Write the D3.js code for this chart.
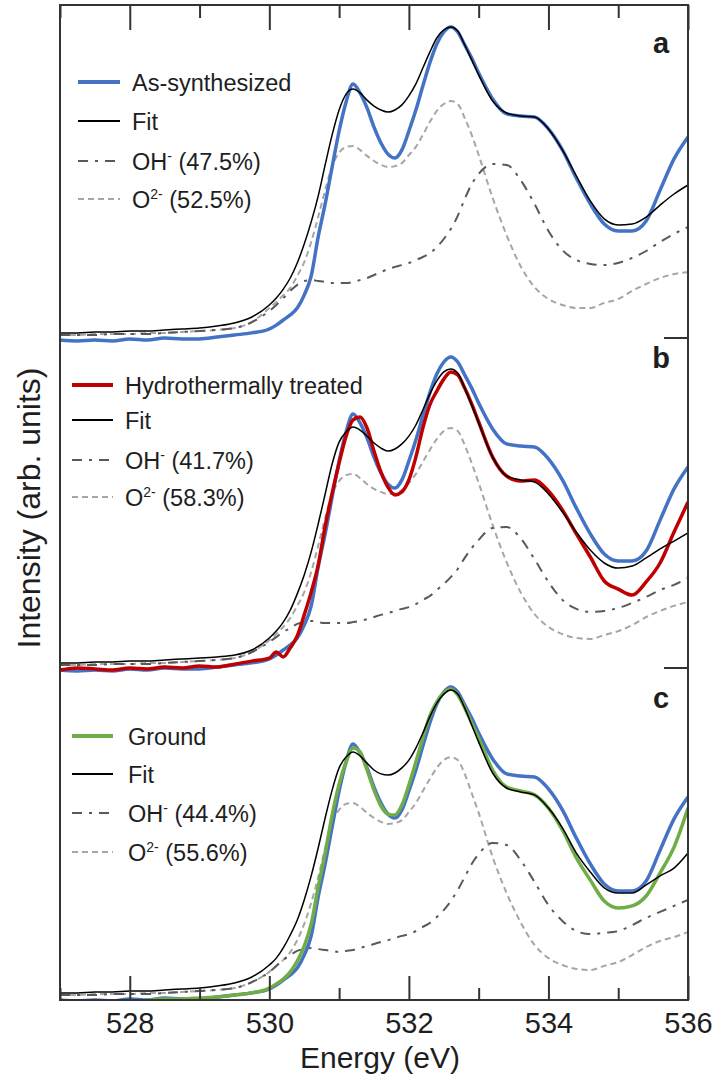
<!DOCTYPE html>
<html>
<head>
<meta charset="utf-8">
<script src="https://cdn.jsdelivr.net/npm/d3@7"></script>
<style>
  body { margin: 0; background: #fff; }
  svg { display: block; font-family: 'Liberation Sans', Arial, sans-serif; }
</style>
</head>
<body>
<svg width="721" height="1080"></svg>
<script>
// energy grid (eV), shared by every series
const energy = [
  527.00, 527.25, 527.50, 527.75, 528.00, 528.25, 528.50, 528.75, 529.00, 529.25, 529.50, 529.75,
  530.0, 530.1, 530.2, 530.3, 530.4, 530.5, 530.6, 530.7, 530.8, 530.9,
  531.0, 531.1, 531.2, 531.3, 531.4, 531.5, 531.6, 531.7, 531.8, 531.9,
  532.0, 532.1, 532.2, 532.3, 532.4, 532.5, 532.6, 532.7, 532.8, 532.9,
  533.0, 533.2, 533.4, 533.6, 533.8, 534.0, 534.2, 534.4, 534.6, 534.8,
  535.0, 535.2, 535.4, 535.6, 535.8, 536.0
];

// measured spectra (normalised intensity)
const asSynth = [
  -0.007, -0.010, -0.007, -0.010, -0.003, -0.007, 0.000, -0.003, -0.003, 0.003, 0.010, 0.017,
  0.030, 0.043, 0.060, 0.077, 0.100, 0.143, 0.207, 0.337, 0.447, 0.570,
  0.690, 0.787, 0.847, 0.817, 0.767, 0.703, 0.650, 0.613, 0.600, 0.627,
  0.690, 0.760, 0.840, 0.917, 0.980, 1.020, 1.037, 1.020, 0.977, 0.933,
  0.883, 0.797, 0.747, 0.740, 0.737, 0.697, 0.627, 0.533, 0.447, 0.380,
  0.357, 0.357, 0.390, 0.493, 0.597, 0.670
];
const hydro = [
  -0.007, 0.000, -0.003, -0.007, 0.000, -0.003, 0.003, 0.000, 0.007, 0.003, 0.013, 0.023,
  0.033, 0.053, 0.037, 0.067, 0.107, 0.177, 0.253, 0.343, 0.473, 0.583,
  0.683, 0.773, 0.827, 0.837, 0.800, 0.723, 0.653, 0.603, 0.577, 0.587,
  0.627, 0.703, 0.800, 0.877, 0.923, 0.963, 0.987, 0.977, 0.933, 0.880,
  0.820, 0.703, 0.640, 0.623, 0.627, 0.590, 0.527, 0.447, 0.370, 0.290,
  0.263, 0.243, 0.287, 0.350, 0.453, 0.553
];
const ground = [
  null, null, null, null, null, -0.007, -0.003, -0.003, 0.000, 0.003, 0.010, 0.017,
  0.033, 0.047, 0.063, 0.087, 0.123, 0.173, 0.247, 0.370, 0.483, 0.610,
  0.713, 0.787, 0.833, 0.820, 0.760, 0.693, 0.640, 0.613, 0.610, 0.643,
  0.710, 0.787, 0.867, 0.940, 0.987, 1.017, 1.030, 1.010, 0.967, 0.917,
  0.867, 0.760, 0.703, 0.690, 0.677, 0.633, 0.560, 0.467, 0.393, 0.323,
  0.300, 0.307, 0.340, 0.417, 0.503, 0.633
];

// fits and components, panel a
const fitA = [
  0.017, 0.017, 0.020, 0.020, 0.023, 0.023, 0.027, 0.030, 0.033, 0.040, 0.050, 0.070,
  0.110, 0.133, 0.163, 0.200, 0.250, 0.313, 0.387, 0.473, 0.577, 0.677,
  0.760, 0.813, 0.830, 0.817, 0.793, 0.773, 0.760, 0.753, 0.760, 0.777,
  0.807, 0.847, 0.900, 0.953, 1.000, 1.027, 1.037, 1.023, 0.977, 0.927,
  0.877, 0.790, 0.750, 0.740, 0.737, 0.697, 0.627, 0.540, 0.457, 0.397,
  0.377, 0.380, 0.403, 0.443, 0.480, 0.510
];
const ohA = [
  0.010, 0.010, 0.010, 0.013, 0.013, 0.013, 0.017, 0.020, 0.023, 0.027, 0.033, 0.053,
  0.090, 0.110, 0.133, 0.157, 0.177, 0.190, 0.193, 0.190, 0.187, 0.183,
  0.183, 0.183, 0.187, 0.193, 0.200, 0.210, 0.220, 0.230, 0.237, 0.243,
  0.250, 0.260, 0.270, 0.283, 0.303, 0.330, 0.363, 0.407, 0.463, 0.513,
  0.547, 0.580, 0.577, 0.527, 0.447, 0.357, 0.293, 0.260, 0.247, 0.243,
  0.250, 0.267, 0.290, 0.320, 0.347, 0.370
];
const o2A = [
  0.010, 0.010, 0.013, 0.013, 0.013, 0.017, 0.017, 0.020, 0.023, 0.027, 0.033, 0.053,
  0.100, 0.120, 0.143, 0.167, 0.207, 0.253, 0.320, 0.403, 0.493, 0.573,
  0.617, 0.637, 0.640, 0.627, 0.607, 0.590, 0.577, 0.570, 0.573, 0.583,
  0.610, 0.637, 0.677, 0.720, 0.757, 0.780, 0.790, 0.780, 0.733, 0.677,
  0.610, 0.467, 0.343, 0.240, 0.170, 0.130, 0.110, 0.100, 0.100, 0.117,
  0.130, 0.157, 0.180, 0.200, 0.213, 0.220
];

// panel b
const fitB = [
  0.017, 0.017, 0.020, 0.020, 0.023, 0.023, 0.027, 0.030, 0.033, 0.037, 0.043, 0.060,
  0.100, 0.123, 0.153, 0.193, 0.247, 0.310, 0.387, 0.480, 0.580, 0.680,
  0.753, 0.787, 0.803, 0.793, 0.773, 0.750, 0.733, 0.723, 0.730, 0.747,
  0.773, 0.810, 0.860, 0.913, 0.957, 0.987, 0.997, 0.983, 0.933, 0.877,
  0.817, 0.703, 0.640, 0.627, 0.620, 0.580, 0.520, 0.453, 0.393, 0.350,
  0.333, 0.340, 0.367, 0.397, 0.423, 0.450
];
const ohB = [
  0.010, 0.010, 0.010, 0.013, 0.013, 0.013, 0.017, 0.020, 0.023, 0.027, 0.033, 0.053,
  0.087, 0.103, 0.120, 0.133, 0.147, 0.153, 0.157, 0.153, 0.150, 0.150,
  0.150, 0.150, 0.153, 0.157, 0.163, 0.170, 0.177, 0.183, 0.190, 0.197,
  0.203, 0.213, 0.227, 0.240, 0.260, 0.280, 0.303, 0.330, 0.367, 0.400,
  0.427, 0.467, 0.470, 0.433, 0.363, 0.287, 0.227, 0.197, 0.187, 0.190,
  0.200, 0.217, 0.237, 0.260, 0.277, 0.300
];
const o2B = [
  0.010, 0.010, 0.013, 0.013, 0.013, 0.017, 0.017, 0.020, 0.023, 0.027, 0.033, 0.053,
  0.093, 0.113, 0.137, 0.167, 0.207, 0.253, 0.320, 0.407, 0.500, 0.580,
  0.623, 0.643, 0.647, 0.633, 0.613, 0.597, 0.587, 0.580, 0.583, 0.593,
  0.617, 0.647, 0.687, 0.727, 0.763, 0.790, 0.800, 0.790, 0.743, 0.683,
  0.617, 0.477, 0.353, 0.253, 0.180, 0.137, 0.113, 0.100, 0.097, 0.110,
  0.123, 0.143, 0.170, 0.190, 0.207, 0.220
];

// panel c
const fitC = [
  0.017, 0.017, 0.020, 0.020, 0.023, 0.023, 0.027, 0.030, 0.033, 0.040, 0.050, 0.070,
  0.110, 0.133, 0.167, 0.210, 0.260, 0.327, 0.407, 0.500, 0.600, 0.693,
  0.767, 0.803, 0.820, 0.807, 0.783, 0.760, 0.747, 0.743, 0.750, 0.767,
  0.793, 0.833, 0.883, 0.937, 0.983, 1.013, 1.027, 1.013, 0.967, 0.910,
  0.853, 0.750, 0.700, 0.687, 0.677, 0.633, 0.567, 0.483, 0.420, 0.367,
  0.350, 0.350, 0.377, 0.407, 0.433, 0.483
];
const ohC = [
  0.010, 0.010, 0.010, 0.013, 0.013, 0.013, 0.017, 0.020, 0.023, 0.027, 0.033, 0.053,
  0.087, 0.107, 0.127, 0.143, 0.157, 0.163, 0.167, 0.163, 0.160, 0.157,
  0.153, 0.157, 0.160, 0.167, 0.173, 0.180, 0.187, 0.193, 0.200, 0.207,
  0.213, 0.223, 0.237, 0.250, 0.270, 0.293, 0.323, 0.360, 0.403, 0.447,
  0.480, 0.517, 0.510, 0.460, 0.387, 0.310, 0.257, 0.223, 0.213, 0.217,
  0.223, 0.243, 0.267, 0.287, 0.307, 0.327
];
const o2C = [
  0.010, 0.010, 0.013, 0.013, 0.013, 0.017, 0.017, 0.020, 0.023, 0.027, 0.033, 0.053,
  0.087, 0.107, 0.127, 0.153, 0.193, 0.247, 0.317, 0.403, 0.500, 0.587,
  0.627, 0.647, 0.650, 0.637, 0.617, 0.600, 0.587, 0.580, 0.583, 0.593,
  0.620, 0.650, 0.690, 0.730, 0.767, 0.793, 0.803, 0.793, 0.747, 0.683,
  0.617, 0.470, 0.350, 0.253, 0.177, 0.133, 0.110, 0.097, 0.093, 0.107,
  0.120, 0.143, 0.170, 0.190, 0.203, 0.220
];

const sampleNames = ['As-synthesized', 'Hydrothermally treated', 'Ground'];
const ohShares = ['47.5%', '41.7%', '44.4%'];
const o2Shares = ['52.5%', '58.3%', '55.6%'];
const panelLabels = ['a', 'b', 'c'];
const majorTicks = [528, 530, 532, 534, 536];
const minorTicks = [527, 529, 531, 533, 535];

const blue = '#4472c4', red = '#c00000', green = '#70ad47';
const ohColor = '#595959', o2Color = '#a6a6a6';
const textColor = '#1e1e1e';

const svg = d3.select('svg');
const frameLeft = 60, frameRight = 688, frameTop = 5, frameBottom = 1000;

const x = d3.scaleLinear().domain([527, 536]).range([frameLeft, frameRight]);

const panels = [
  { base: 338, sample: asSynth, color: blue, fit: fitA, oh: ohA, o2: o2A,
    leg: { x0: 78, x1: 120, tx: 132, rows: [82, 121, 161, 199] }, labelY: 53 },
  { base: 668, sample: hydro, color: red, fit: fitB, oh: ohB, o2: o2B, ref: asSynth,
    leg: { x0: 72, x1: 113, tx: 125, rows: [385, 420, 460, 497] }, labelY: 368 },
  { base: 998, sample: ground, color: green, fit: fitC, oh: ohC, o2: o2C, ref: asSynth,
    leg: { x0: 72, x1: 113, tx: 128, rows: [736, 774, 813, 852] }, labelY: 708 }
];

svg.append('clipPath').attr('id', 'frame-clip')
  .append('rect')
    .attr('x', frameLeft).attr('y', frameTop)
    .attr('width', frameRight - frameLeft).attr('height', frameBottom - frameTop);

const plot = svg.append('g').attr('clip-path', 'url(#frame-clip)');

panels.forEach((p, i) => {
  const y = d3.scaleLinear().domain([0, 1.1]).range([p.base, p.base - 330]);
  const line = d3.line()
      .defined(d => d[1] != null)
      .x(d => x(d[0]))
      .y(d => y(d[1]))
      .curve(d3.curveMonotoneX);
  const pts = arr => energy.map((e, k) => [e, arr[k]]);

  const g = plot.append('g');
  g.append('path').attr('d', line(pts(p.o2)))
      .attr('fill', 'none').attr('stroke', o2Color)
      .attr('stroke-width', 2).attr('stroke-dasharray', '6,4');
  g.append('path').attr('d', line(pts(p.oh)))
      .attr('fill', 'none').attr('stroke', ohColor)
      .attr('stroke-width', 2).attr('stroke-dasharray', '10,7,3,7');
  if (p.ref) {
    g.append('path').attr('d', line(pts(p.ref)))
        .attr('fill', 'none').attr('stroke', blue).attr('stroke-width', 3.5)
        .attr('stroke-linejoin', 'round');
  }
  g.append('path').attr('d', line(pts(p.sample)))
      .attr('fill', 'none').attr('stroke', p.color).attr('stroke-width', 3.5)
      .attr('stroke-linejoin', 'round');
  g.append('path').attr('d', line(pts(p.fit)))
      .attr('fill', 'none').attr('stroke', '#000').attr('stroke-width', 1.5);

  // legend
  const leg = svg.append('g').attr('font-size', 23.5).attr('fill', textColor);
  const styles = [
    { stroke: p.color, w: 4, dash: null },
    { stroke: '#000', w: 1.8, dash: null },
    { stroke: ohColor, w: 2.2, dash: '10,7,3,7' },
    { stroke: o2Color, w: 2.2, dash: '6,4' }
  ];
  styles.forEach((s, r) => {
    leg.append('line')
        .attr('x1', p.leg.x0).attr('x2', p.leg.x1)
        .attr('y1', p.leg.rows[r]).attr('y2', p.leg.rows[r])
        .attr('stroke', s.stroke).attr('stroke-width', s.w)
        .attr('stroke-dasharray', s.dash);
  });
  const ty = r => p.leg.rows[r] + 8.5;
  leg.append('text').attr('x', p.leg.tx).attr('y', ty(0)).text(sampleNames[i]);
  leg.append('text').attr('x', p.leg.tx).attr('y', ty(1)).text('Fit');
  const t3 = leg.append('text').attr('x', p.leg.tx).attr('y', ty(2));
  t3.append('tspan').text('OH');
  t3.append('tspan').attr('font-size', 14).attr('dy', -9).text('-');
  t3.append('tspan').attr('dy', 9).text(' (' + ohShares[i] + ')');
  const t4 = leg.append('text').attr('x', p.leg.tx).attr('y', ty(3));
  t4.append('tspan').text('O');
  t4.append('tspan').attr('font-size', 14).attr('dy', -9).text('2-');
  t4.append('tspan').attr('dy', 9).text(' (' + o2Shares[i] + ')');

  // panel letter
  svg.append('text')
      .attr('x', 661).attr('y', p.labelY)
      .attr('text-anchor', 'middle')
      .attr('font-size', 29).attr('font-weight', 'bold')
      .attr('fill', textColor)
      .text(panelLabels[i]);

  // separator tick on the right axis
  if (i < 2) {
    svg.append('line')
        .attr('x1', frameRight - 24).attr('x2', frameRight)
        .attr('y1', y(0)).attr('y2', y(0))
        .attr('stroke', '#333').attr('stroke-width', 2);
  }
});

// axes
const axisG = svg.append('g');
axisG.append('g')
    .attr('transform', `translate(0,${frameBottom})`)
    .call(d3.axisBottom(x).tickValues(majorTicks).tickSize(-24).tickPadding(12).tickFormat(d3.format('d')));
axisG.append('g')
    .attr('transform', `translate(0,${frameBottom})`)
    .call(d3.axisBottom(x).tickValues(minorTicks).tickSize(-12).tickFormat(''));
axisG.append('g')
    .attr('transform', `translate(0,${frameTop})`)
    .call(d3.axisTop(x).tickValues(majorTicks).tickSize(-25).tickFormat(''));
axisG.append('g')
    .attr('transform', `translate(0,${frameTop})`)
    .call(d3.axisTop(x).tickValues(minorTicks).tickSize(-13).tickFormat(''));
axisG.selectAll('.domain').remove();
axisG.selectAll('.tick line').attr('stroke', '#333').attr('stroke-width', 2);
axisG.selectAll('.tick text')
    .attr('font-family', "'Liberation Sans', Arial, sans-serif")
    .attr('font-size', 29).attr('fill', textColor);

// frame
svg.append('rect')
    .attr('x', frameLeft).attr('y', frameTop)
    .attr('width', frameRight - frameLeft).attr('height', frameBottom - frameTop)
    .attr('fill', 'none').attr('stroke', '#333').attr('stroke-width', 2);

// axis titles
svg.append('text')
    .attr('x', 380).attr('y', 1068)
    .attr('text-anchor', 'middle')
    .attr('font-size', 30).attr('fill', textColor)
    .text('Energy (eV)');
svg.append('text')
    .attr('transform', 'translate(40,508) rotate(-90)')
    .attr('text-anchor', 'middle')
    .attr('font-size', 32).attr('fill', textColor)
    .text('Intensity (arb. units)');
</script>
</body>
</html>
